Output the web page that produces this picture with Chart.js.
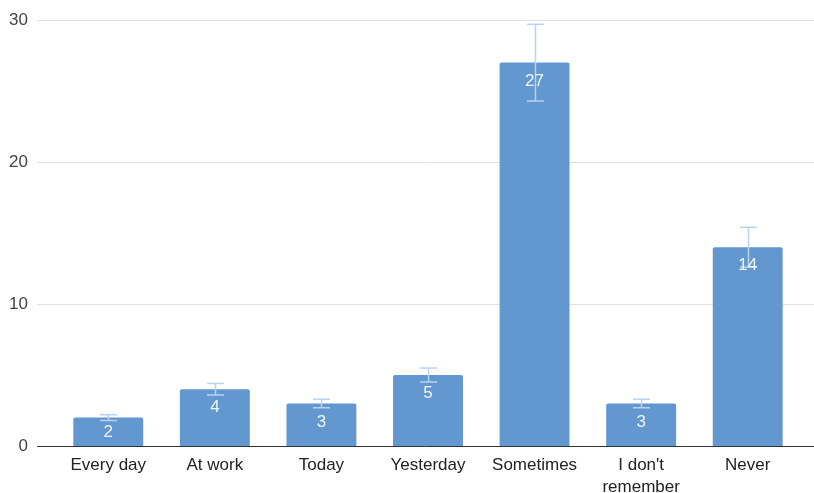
<!DOCTYPE html>
<html>
<head>
<meta charset="utf-8">
<script src="https://cdn.jsdelivr.net/npm/chart.js@4"></script>
<style>
html,body{margin:0;padding:0;background:#fff;}
#wrap{width:814px;height:493px;}
</style>
</head>
<body>
<div id="wrap"><canvas id="c" width="814" height="493"></canvas></div>
<script>
const categories = ["Every day", "At work", "Today", "Yesterday", "Sometimes", ["I don't", "remember"], "Never"];
const values = [2, 4, 3, 5, 27, 3, 14];
const errors = [0.2, 0.4, 0.3, 0.5, 2.7, 0.3, 1.4];
const yTicks = [0, 10, 20, 30];

const FONT = "'Liberation Sans', Arial, sans-serif";

const gridPlugin = {
  id: 'gridPlugin',
  beforeDatasetsDraw(chart) {
    const {ctx, chartArea, scales} = chart;
    const y = scales.y;
    ctx.save();
    ctx.lineWidth = 1;
    yTicks.forEach(v => {
      if (v === 0) return;
      const py = Math.round(y.getPixelForValue(v)) + 0.5;
      ctx.strokeStyle = '#e0e0e0';
      ctx.beginPath();
      ctx.moveTo(chartArea.left - 18, py);
      ctx.lineTo(chart.width, py);
      ctx.stroke();
    });
    ctx.restore();
  },
  afterDatasetsDraw(chart) {
    const {ctx, chartArea, scales} = chart;
    const y = scales.y;
    const meta = chart.getDatasetMeta(0);
    ctx.save();
    ctx.strokeStyle = '#b9d3ef';
    ctx.lineWidth = 1.5;
    meta.data.forEach((bar, i) => {
      const x = Math.round(bar.x) + 0.5;
      const yt = y.getPixelForValue(values[i] + errors[i]);
      const yb = y.getPixelForValue(values[i] - errors[i]);
      ctx.beginPath();
      ctx.moveTo(x, yt); ctx.lineTo(x, yb);
      ctx.moveTo(x - 8.5, yt); ctx.lineTo(x + 8.5, yt);
      ctx.moveTo(x - 8.5, yb); ctx.lineTo(x + 8.5, yb);
      ctx.stroke();
    });
    ctx.fillStyle = 'rgba(255,255,255,0.9)';
    ctx.font = '17px ' + FONT;
    ctx.textAlign = 'center';
    ctx.textBaseline = 'middle';
    meta.data.forEach((bar, i) => {
      const cy = Math.min(bar.y + 18.5, bar.base - 13.5);
      ctx.fillText(String(values[i]), bar.x, cy);
    });
    const p0 = Math.round(y.getPixelForValue(0)) + 0.5;
    ctx.strokeStyle = '#333333';
    ctx.lineWidth = 1;
    ctx.beginPath();
    ctx.moveTo(chartArea.left - 18, p0);
    ctx.lineTo(chart.width, p0);
    ctx.stroke();
    ctx.restore();
  }
};

new Chart(document.getElementById('c'), {
  type: 'bar',
  data: {
    labels: categories,
    datasets: [{
      data: values,
      backgroundColor: '#6397d0',
      borderRadius: 2,
      borderSkipped: 'bottom',
      barPercentage: 0.656,
      categoryPercentage: 1.0
    }]
  },
  options: {
    responsive: false,
    animation: false,
    devicePixelRatio: 1,
    layout: { padding: { top: 20, right: 13, left: 0, bottom: 0 } },
    plugins: { legend: { display: false }, tooltip: { enabled: false } },
    scales: {
      x: {
        grid: { display: false, drawTicks: false },
        border: { display: false },
        ticks: {
          color: '#222222',
          font: { family: FONT, size: 17, lineHeight: 1.25 },
          padding: 9,
          maxRotation: 0,
          autoSkip: false
        },
        afterFit(scale) { scale.height = 47; }
      },
      y: {
        min: 0, max: 30,
        grid: { display: false, drawTicks: true, tickLength: 27 },
        border: { display: false },
        afterBuildTicks(scale) { scale.ticks = yTicks.map(v => ({ value: v })); },
        ticks: {
          color: '#444444',
          font: { family: FONT, size: 17 },
          padding: 0
        },
        afterFit(scale) { scale.width = 55; }
      }
    }
  },
  plugins: [gridPlugin]
});
</script>
</body>
</html>
